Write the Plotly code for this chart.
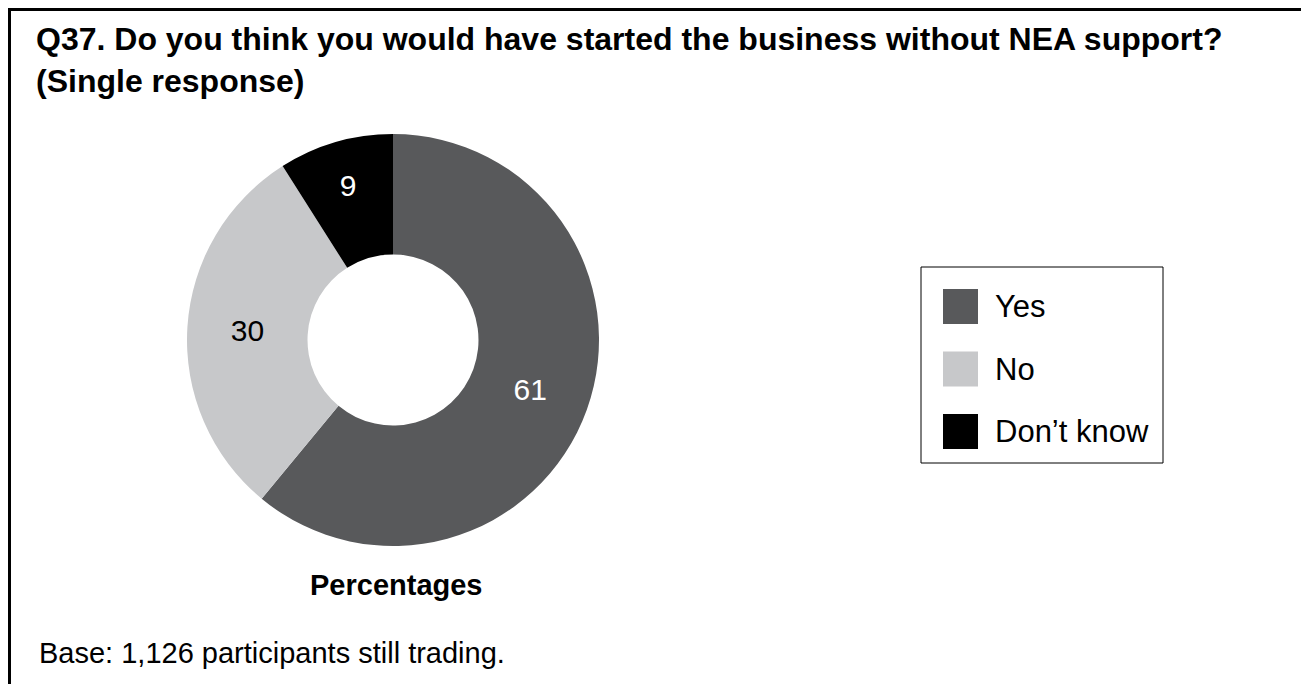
import plotly.graph_objects as go

# page body has an 8px margin: figure placed at (8, 8) in the 1309x684 window
OFF = 8
W, H = 1309 - OFF, 684 - OFF

categories = ["Yes", "No", "Don\u2019t know"]
values = [61, 30, 9]
colors = ["#58595B", "#C7C8CA", "#000000"]
label_colors = ["#FFFFFF", "#000000", "#FFFFFF"]

title_lines = ["Q37. Do you think you would have started the business without NEA support?",
               "(Single response)"]
subtitle = "Percentages"
footnote = "Base: 1,126 participants still trading."

FONT = "Liberation Sans, Arial, sans-serif"


def px(x):
    return (x - OFF) / W


def py(y):
    return 1 - (y - OFF) / H


fig = go.Figure()
fig.add_trace(go.Pie(
    labels=categories,
    values=values,
    sort=False,
    direction="clockwise",
    rotation=0,
    hole=0.415,
    marker=dict(colors=colors, line=dict(width=0)),
    textinfo="value",
    textposition="inside",
    insidetextorientation="horizontal",
    textfont=dict(family=FONT, size=30, color=label_colors),
    domain=dict(x=[px(187), px(599)], y=[py(546), py(134)]),
    showlegend=False,
    hoverinfo="label+value",
))

shapes = [
    dict(type="line", xref="paper", yref="paper", x0=0, x1=1.0, y0=py(9.5), y1=py(9.5),
         line=dict(color="#000000", width=3)),
    dict(type="line", xref="paper", yref="paper", x0=px(9.5), x1=px(9.5), y0=py(8), y1=0,
         line=dict(color="#000000", width=3)),
    dict(type="rect", xref="paper", yref="paper", x0=px(921), x1=px(1163), y0=py(463), y1=py(267),
         line=dict(color="#000000", width=1), fillcolor="rgba(0,0,0,0)"),
]

annotations = [
    dict(text="<b>" + "<br>".join(title_lines) + "</b>", xref="paper", yref="paper",
         x=px(34), y=py(19), xanchor="left", yanchor="top", align="left", showarrow=False,
         font=dict(family=FONT, size=32, color="#000000")),
    dict(text="<b>" + subtitle + "</b>", xref="paper", yref="paper",
         x=px(396), y=py(585), xanchor="center", yanchor="middle", showarrow=False,
         font=dict(family=FONT, size=29, color="#000000")),
    dict(text=footnote, xref="paper", yref="paper",
         x=px(37), y=py(653), xanchor="left", yanchor="middle", showarrow=False,
         font=dict(family=FONT, size=29, color="#000000")),
]

# custom legend (large swatches)
for i, (cat, col) in enumerate(zip(categories, colors)):
    cy = 306.5 + i * 62.5
    shapes.append(dict(type="rect", xref="paper", yref="paper",
                       x0=px(943), x1=px(978), y0=py(cy + 17.5), y1=py(cy - 17.5),
                       line=dict(width=0), fillcolor=col))
    annotations.append(dict(text=cat, xref="paper", yref="paper",
                            x=px(993), y=py(cy), xanchor="left", yanchor="middle",
                            showarrow=False,
                            font=dict(family=FONT, size=31, color="#000000")))

fig.update_layout(
    width=W, height=H,
    margin=dict(l=0, r=0, t=0, b=0),
    paper_bgcolor="#FFFFFF",
    plot_bgcolor="#FFFFFF",
    shapes=shapes,
    annotations=annotations,
    showlegend=False,
)

fig.write_html("out.html")
